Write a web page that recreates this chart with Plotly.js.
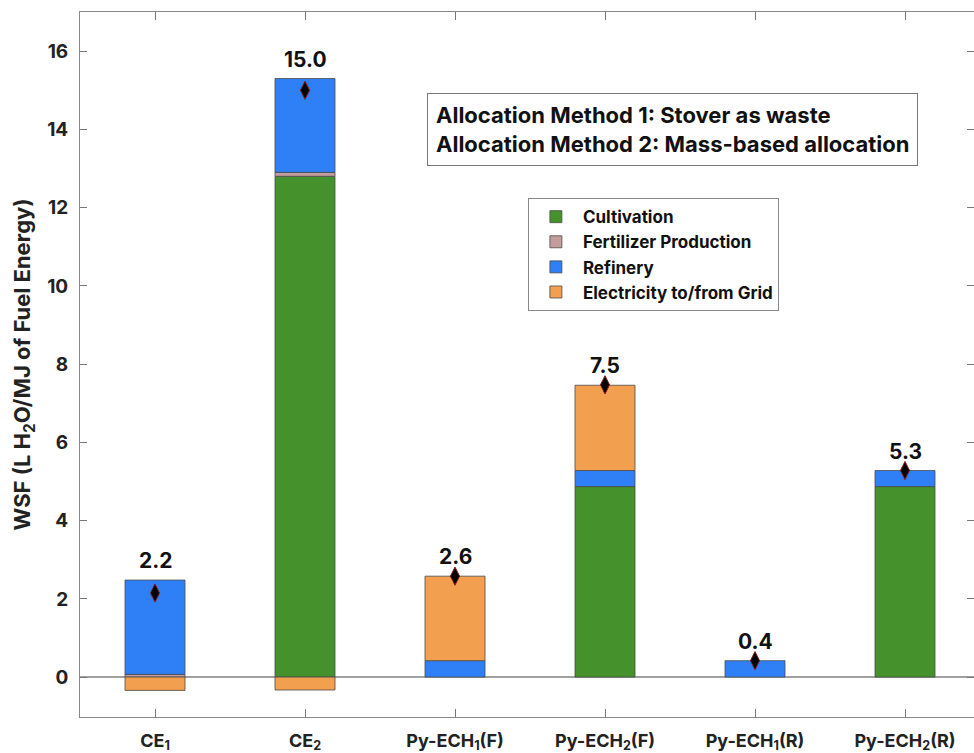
<!DOCTYPE html>
<html>
<head>
<meta charset="utf-8">
<script src="https://cdn.plot.ly/plotly-3.0.1.min.js"></script>
<style>html,body{margin:0;padding:0;background:#fff;}#chart{width:974px;height:753px;}</style>
</head>
<body>
<div id="chart"></div>
<script>
// ---- data ----
const categories = ['CE1', 'CE2', 'Py-ECH1(F)', 'Py-ECH2(F)', 'Py-ECH1(R)', 'Py-ECH2(R)'];
const tickLabels = ['CE<sub>1</sub>', 'CE<sub>2</sub>', 'Py-ECH<sub>1</sub>(F)', 'Py-ECH<sub>2</sub>(F)', 'Py-ECH<sub>1</sub>(R)', 'Py-ECH<sub>2</sub>(R)'];
const cultivation = [null, 12.8, null, 4.87, null, 4.87];
const fertilizer  = [0.07, 0.1, null, null, null, null];
const refinery    = [2.41, 2.4, 0.42, 0.41, 0.42, 0.41];
const electricity = [-0.34, -0.33, 2.16, 2.18, null, null];
const netWSF      = [2.15, 15.0, 2.58, 7.47, 0.42, 5.28];
const netLabels   = ['2.2', '15.0', '2.6', '7.5', '0.4', '5.3'];
const seriesNames = ['Cultivation', 'Fertilizer Production', 'Refinery', 'Electricity to/from Grid'];
const infoLines = ['Allocation Method 1: Stover as waste', 'Allocation Method 2: Mass-based allocation'];

// ---- style ----
const FONT = 'Inter, "Liberation Sans", Arial, sans-serif';
const colors = ['#45922c', '#c59c9c', '#2f80f7', '#f2a04f'];
const seriesData = [cultivation, fertilizer, refinery, electricity];

const traces = seriesData.map((vals, i) => ({
  type: 'bar',
  name: seriesNames[i],
  x: categories,
  y: vals,
  width: 0.4,
  marker: { color: colors[i], line: { color: '#4a4a4a', width: 0.8 } },
  hoverinfo: 'name+y'
}));

traces.push({
  type: 'scatter',
  mode: 'markers',
  x: categories,
  y: netWSF,
  showlegend: false,
  marker: { symbol: 'diamond-tall', size: 13, color: '#000', line: { color: '#8b1a1a', width: 1 } },
  hoverinfo: 'y'
});

// top of positive stack for each category
const stackTop = categories.map((c, j) =>
  seriesData.reduce((s, arr) => s + ((arr[j] !== null && arr[j] > 0) ? arr[j] : 0), 0));

const annotations = categories.map((c, j) => ({
  x: c, y: stackTop[j], xref: 'x', yref: 'y',
  text: '<b>' + netLabels[j] + '</b>',
  showarrow: false, yanchor: 'bottom', yshift: 5,
  font: { family: FONT, size: 21, color: '#111' }
}));

annotations.push({
  xref: 'paper', yref: 'paper', x: 0.663, y: 0.833,
  xanchor: 'center', yanchor: 'middle', align: 'left',
  text: infoLines.map(t => '<b>' + t + '</b>').join('<br>'),
  showarrow: false,
  font: { family: FONT, size: 22, color: '#111' },
  bordercolor: '#777', borderwidth: 1, borderpad: 8, bgcolor: '#fff'
});

const layout = {
  width: 974, height: 753,
  margin: { l: 80, r: 0, t: 12, b: 36 },
  paper_bgcolor: '#fff', plot_bgcolor: '#fff',
  barmode: 'relative',
  font: { family: FONT, color: '#222' },
  showlegend: true,
  legend: {
    x: 0.501, y: 0.736, xanchor: 'left', yanchor: 'top',
    bgcolor: '#fff', bordercolor: '#888', borderwidth: 1,
    font: { family: FONT, size: 17, color: '#111', weight: 'bold' },
    itemwidth: 44,
    traceorder: 'normal', tracegroupgap: 0
  },
  xaxis: {
    type: 'category',
    range: [-0.5, 5.46],
    tickmode: 'array', tickvals: categories, ticktext: tickLabels,
    ticks: 'inside', ticklen: 8, tickcolor: '#777', tickwidth: 1,
    showline: true, linecolor: '#888', linewidth: 1, mirror: 'ticks',
    showgrid: false, zeroline: false,
    tickfont: { family: FONT, size: 18, color: '#222', weight: 'bold' },
    ticklabelstandoff: 7
  },
  yaxis: {
    range: [-1.02, 17.0],
    tickmode: 'array', tickvals: [0, 2, 4, 6, 8, 10, 12, 14, 16],
    ticks: 'inside', ticklen: 7, tickcolor: '#777', tickwidth: 1,
    showline: true, linecolor: '#888', linewidth: 1, mirror: 'ticks',
    showgrid: false,
    zeroline: true, zerolinecolor: '#a0a0a0', zerolinewidth: 1.5,
    tickfont: { family: FONT, size: 19, color: '#222', weight: 'bold' },
    ticklabelstandoff: 7,
    title: { text: 'WSF (L H<sub>2</sub>O/MJ of Fuel Energy)', font: { family: FONT, size: 22, color: '#222', weight: 'bold' }, standoff: 10 }
  },
  annotations: annotations
};

Plotly.newPlot('chart', traces, layout, { displayModeBar: false, staticPlot: true });
</script>
</body>
</html>
